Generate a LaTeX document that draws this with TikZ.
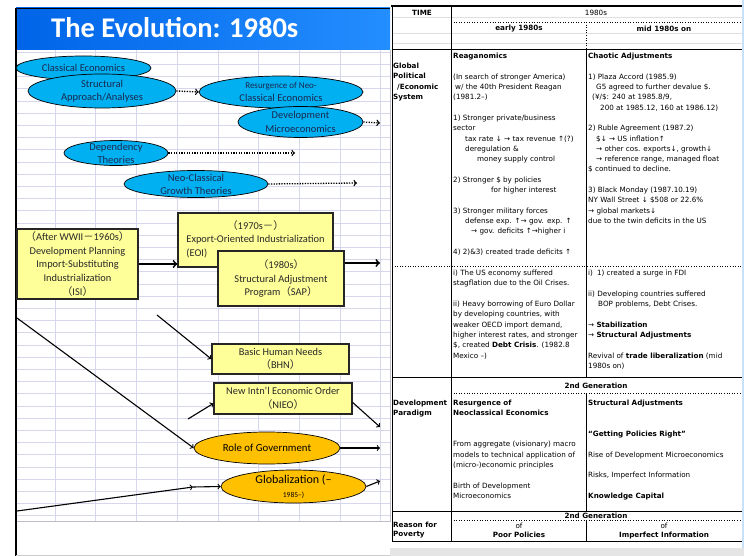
\documentclass[tikz,border=0pt]{standalone}
\usepackage{fontspec}
\setmainfont{Carlito}
\newfontfamily\tabfont{DejaVu Sans}
\newfontfamily\cjk{Noto Sans CJK JP}
\usetikzlibrary{shapes.geometric}
\definecolor{hdrblue}{RGB}{0,100,232}
\definecolor{hdrblue2}{RGB}{35,142,255}
\definecolor{ellblue}{RGB}{0,176,240}
\definecolor{ellorange}{RGB}{255,192,0}
\definecolor{boxyellow}{RGB}{255,255,153}
\definecolor{gridc}{RGB}{214,214,236}
\definecolor{inkblue}{RGB}{28,40,80}
\definecolor{inkgray}{RGB}{40,40,40}
\definecolor{paleblue}{RGB}{200,225,250}
\newcommand\flp{{\cjk （}}
\newcommand\frp{{\cjk ）}}
\newcommand\fdash{{\cjk －}}
\tikzset{
  theory/.style={ellipse, draw=black, line width=0.7pt, fill=ellblue, inner sep=0pt},
  issue/.style={theory, fill=ellorange},
  thtext/.style={inner sep=0pt, align=center, text=inkblue, font=\fontsize{10.5}{13.5}\selectfont},
  era/.style={rectangle, draw=black!85, line width=1.4pt, fill=boxyellow, inner sep=0pt,
    text=inkgray, align=center, font=\fontsize{10.4}{13.7}\selectfont},
  flow/.style={->, line width=1.1pt},
  bigflow/.style={->, line width=1.8pt},
  dotflow/.style={->, line width=1.3pt, dash pattern=on 1.3pt off 1.3pt},
  cell/.style={anchor=north west, inner sep=0pt, align=left, font=\tabfont\fontsize{7.2}{10.3}\selectfont},
  rowhead/.style={cell, font=\tabfont\bfseries\fontsize{7.2}{10.3}\selectfont},
  head/.style={inner sep=0pt, font=\tabfont\bfseries\fontsize{7.2}{10.3}\selectfont},
  tabrule/.style={line width=0.8pt},
  dotrule/.style={line width=0.6pt, dotted}
}
\begin{document}
\begin{tikzpicture}[x=1pt,y=-1pt]
\useasboundingbox (0,0) rectangle (744,556);
\fill[white] (0,0) rectangle (744,556);
\foreach \i in {0,...,38}
  \draw[gridc, line width=0.5pt] (16,{52+12.2*\i}) -- (390,{52+12.2*\i});
\foreach \i in {0,...,8}
  \draw[gridc, line width=0.5pt] ({55+40.7*\i},50) -- ({55+40.7*\i},521);
\draw[gridc!70!gray, line width=0.6pt] (16,521) -- (390,521) -- (390,50);
\shade[left color=hdrblue, right color=hdrblue2] (16,8) rectangle (390,50);
\draw[line width=0.6pt] (16,8) -- (390,8);
\draw[line width=2.4pt] (16,8) -- (16,556);
\draw[gray!40, line width=1pt] (16,555) -- (390,555);
\node[anchor=west, inner sep=0pt, text=white, font=\fontsize{28.5}{30}\bfseries\selectfont] (title) at (51,28) {The Evolution: 1980s};

\node[theory, minimum width=135pt, minimum height=24pt, label={[thtext]center:Classical Economics}] (classic) at (83.5,68) {};
\node[theory, minimum width=148pt, minimum height=34pt, label={[thtext]center:{Structural\\Approach/Analyses}}] (struct) at (102,91) {};
\node[theory, minimum width=164pt, minimum height=32pt, label={[thtext, font=\fontsize{10.5}{12.5}\selectfont]center:{{\fontsize{9}{12}\selectfont Resurgence of Neo-}\\Classical Economics}}] (resurg) at (281,92) {};
\node[theory, minimum width=125pt, minimum height=31pt, label={[thtext]center:{Development\\Microeconomics}}] (devmicro) at (300.5,122) {};
\node[theory, minimum width=104pt, minimum height=25pt, label={[thtext, font=\fontsize{10.5}{13}\selectfont]center:{Dependency\\Theories}}] (depend) at (116,153) {};
\node[theory, minimum width=144pt, minimum height=27pt, label={[thtext, font=\fontsize{10.5}{13}\selectfont]center:{Neo-Classical\\Growth Theories}}] (ncgrowth) at (196,184) {};
\coordinate (devout) at (380,123);
\coordinate (depout) at (295,153);
\coordinate (ncgout) at (357,183);
\draw[dotflow] (struct.east) -- (resurg.west);
\draw[dotflow] (devmicro.east) -- (devout);
\draw[dotflow] (depend.east) -- (depout);
\draw[dotflow] (ncgrowth.east) -- (ncgout);

\node[era, minimum width=121pt, minimum height=70pt] (isi) at (77.5,264)
  {\flp After WWII\fdash 1960s\frp\\Development Planning\\Import-Substituting\\Industrialization\\\flp ISI\frp};
\node[era, minimum width=155pt, minimum height=54pt] (eoi) at (255.5,240)
  {\begin{tabular}{@{}l@{}}\multicolumn{1}{@{}c@{}}{\flp 1970s\fdash\frp}\\Export-Oriented Industrialization\\(EOI)\end{tabular}};
\node[era, minimum width=126pt, minimum height=55pt] (sap) at (281,278.5)
  {\flp 1980s\frp\\Structural Adjustment\\Program\flp SAP\frp};
\node[era, minimum width=137pt, minimum height=30pt] (bhn) at (280.5,359) {Basic Human Needs\\\flp BHN\frp};
\node[era, minimum width=138pt, minimum height=31pt] (nieo) at (283,398.5) {New Intn'l Economic Order\\\flp NIEO\frp};
\node[issue, minimum width=146pt, minimum height=32pt, label={[thtext, text=black, font=\fontsize{10.8}{13}\selectfont]center:Role of Government}] (role) at (267,448) {};
\node[issue, minimum width=145pt, minimum height=33pt, label={[thtext, text=black]center:{{\fontsize{12}{13}\selectfont Globalization (–}\\{\fontsize{7.5}{10}\selectfont 1985–)}}}] (glob) at (293.5,486.5) {};

\coordinate (sapout) at (380,263);
\coordinate (bhnin) at (157,315);
\coordinate (nieoin) at (188,419);
\coordinate (nieoout) at (380,427);
\coordinate (rolein) at (17,318);
\coordinate (roleout) at (380,448);
\coordinate (globin) at (17,511);
\coordinate (globmid) at (193,487);
\coordinate (globout) at (380,481);
\draw[bigflow] (isi.east) -- (isi.east -| eoi.west);
\draw[bigflow] (sapout -| sap.east) -- (sapout);
\draw[flow] (bhnin) -- (bhn.west);
\draw[flow] (nieoin) -- ([yshift=-5pt]nieo.west);
\draw[flow] ([yshift=-4pt]nieo.east) -- (nieoout);
\draw[flow] (rolein) -- (role.west);
\draw[flow] (role.east) -- (roleout);
\draw[flow] (globin) -- (globmid);
\draw[flow] (globmid) -- (glob.west);
\draw[flow] (glob.east) -- (globout);

\fill[paleblue] (742,0) rectangle (744,548);
\fill[gray!20] (390,548) rectangle (744,556);
\foreach \y in {17,33,43}
  \draw[gray!25, line width=0.4pt] (392,\y) -- (742,\y);
\draw[line width=2pt] (391,6) -- (742,6);
\draw[tabrule] (392,49) -- (742,49) (392,377) -- (742,377) (392,511) -- (742,511) (392,541) -- (742,541);
\draw[dotrule] (451,22) -- (742,22) (392,266) -- (742,266) (451,393) -- (742,393) (451,520.5) -- (742,520.5);
\draw[line width=0.5pt] (392,6) -- (392,541);
\draw[line width=1pt] (451,6) -- (451,541);
\draw[dotrule] (586,22) -- (586,49);
\draw[tabrule] (586,49) -- (586,377) (586,393) -- (586,511) (586,520.5) -- (586,541);

\node[head] (time) at (422,13) {TIME};
\node[head, font=\tabfont\fontsize{7.2}{10.3}\selectfont] (decade) at (596,13) {1980s};
\node[head] (early) at (519,29) {early 1980s};
\node[head] (mid) at (664,29) {mid 1980s on};
\node[rowhead] (sys) at (393,63) {Global\\Political\\\hspace*{4pt}/Economic\\System};
\node[cell] (reagan) at (453,53) {\textbf{Reaganomics}\\[10.3pt]
(In search of stronger America)\\
\hspace*{2pt}w/ the 40th President Reagan\\
(1981.2–)\\[10.3pt]
1) Stronger private/business\\
sector\\
\hspace*{12pt}tax rate ↓ → tax revenue ↑(?)\\
\hspace*{12pt}deregulation \&\\
\hspace*{24pt}money supply control\\[10.3pt]
2) Stronger \$ by policies\\
\hspace*{38pt}for higher interest\\[10.3pt]
3) Stronger military forces\\
\hspace*{12pt}defense exp. ↑→ gov. exp. ↑\\
\hspace*{18pt}→ gov. deficits ↑→higher i\\[10.3pt]
4) 2)\&3) created trade deficits ↑};
\node[cell] (chaotic) at (588,53) {\textbf{Chaotic Adjustments}\\[10.3pt]
1) Plaza Accord (1985.9)\\
\hspace*{8pt}G5 agreed to further devalue \$.\\
\hspace*{4pt}(¥/\$: 240 at 1985.8/9,\\
\hspace*{12pt}200 at 1985.12, 160 at 1986.12)\\[10.3pt]
2) Ruble Agreement (1987.2)\\
\hspace*{8pt}\$↓ → US inflation↑\\
\hspace*{8pt}→ other cos. exports↓, growth↓\\
\hspace*{8pt}→ reference range, managed float\\
\$ continued to decline.\\[10.3pt]
3) Black Monday (1987.10.19)\\
NY Wall Street ↓ \$508 or 22.6\%\\
→ global markets↓\\
due to the twin deficits in the US};
\node[cell] (earlyfx) at (453,270) {i) The US economy suffered\\
stagflation due to the Oil Crises.\\[10.3pt]
ii) Heavy borrowing of Euro Dollar\\
by developing countries, with\\
weaker OECD import demand,\\
higher interest rates, and stronger\\
\$, created \textbf{Debt Crisis}. (1982.8\\
Mexico –)};
\node[cell] (midfx) at (588,270) {i)\hspace*{4pt}1) created a surge in FDI\\[10.3pt]
ii) Developing countries suffered\\
\hspace*{10pt}BOP problems, Debt Crises.\\[10.3pt]
→ \textbf{Stabilization}\\
→ \textbf{Structural Adjustments}\\[10.3pt]
Revival of \textbf{trade liberalization} (mid\\
1980s on)};
\node[head] (gena) at (596,386) {2nd Generation};
\node[rowhead] (para) at (393,400) {Development\\Paradigm};
\node[cell] (neoclass) at (453,400) {\textbf{Resurgence of}\\
\textbf{Neoclassical Economics}\\[20.6pt]
From aggregate (visionary) macro\\
models to technical application of\\
(micro-)economic principles\\[10.3pt]
Birth of Development\\
Microeconomics};
\node[cell] (sapcell) at (588,400) {\textbf{Structural Adjustments}\\[20.6pt]
\textbf{“Getting Policies Right”}\\[10.3pt]
Rise of Development Microeconomics\\[10.3pt]
Risks, Imperfect Information\\[10.3pt]
\textbf{Knowledge Capital}};
\node[head] (genb) at (596,515.5) {2nd Generation};
\node[rowhead, font=\tabfont\bfseries\fontsize{7.2}{9.3}\selectfont] (reason) at (393,522) {Reason for\\Poverty};
\node[cell, align=center, anchor=north, font=\tabfont\fontsize{7.2}{9.3}\selectfont] (poor) at (519,522.5) {of\\\textbf{Poor Policies}};
\node[cell, align=center, anchor=north, font=\tabfont\fontsize{7.2}{9.3}\selectfont] (imperf) at (664,522.5) {of\\\textbf{Imperfect Information}};
\end{tikzpicture}
\end{document}
